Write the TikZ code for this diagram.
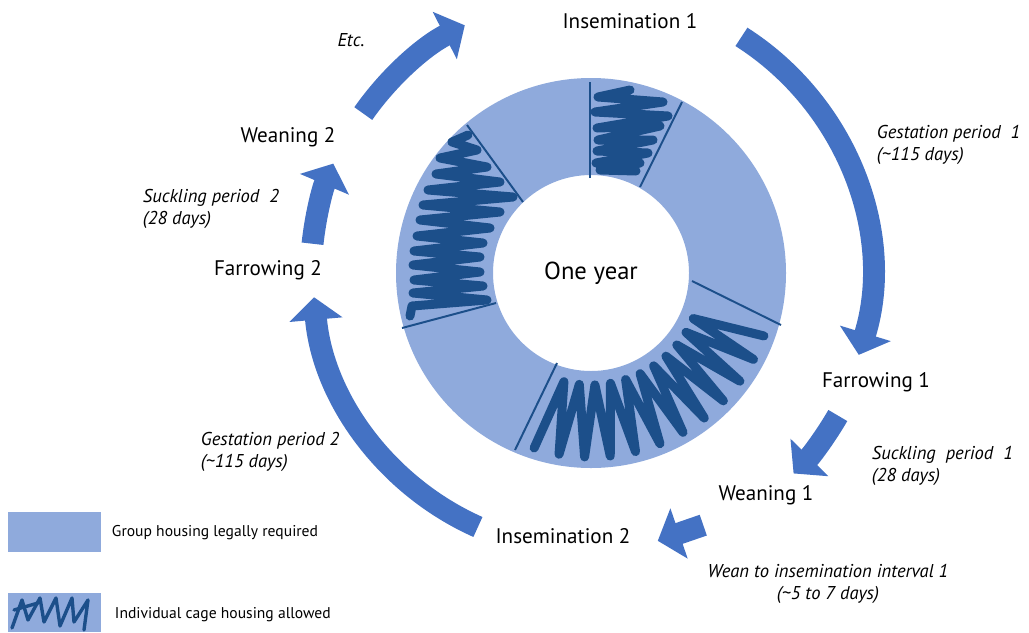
\documentclass[tikz,border=0pt]{standalone}
\usepackage{fontspec}
\setmainfont{PT Sans}
\usetikzlibrary{arrows.meta}

\definecolor{cycleblue}{HTML}{4472C4}
\definecolor{groupblue}{HTML}{8FAADC}
\definecolor{cageblue}{HTML}{1C4F8A}

\tikzset{%
   % thick curved arrow between two stages of the cycle
   cyclearrow/.style={
      draw=cycleblue,
      line width=15.6pt,
      -{Triangle[length=16pt, width=37pt]}
   },
   stage/.style={
      font=\fontsize{15}{18}\selectfont
   },
   period/.style={
      font=\itshape\fontsize{13.2}{16}\selectfont,
      align=left,
      anchor=west
   },
   % hand drawn filling of the cage periods
   scribble/.style={
      draw=cageblue,
      line width=6.4pt,
      line cap=round,
      line join=round
   },
   divider/.style={
      draw=cageblue,
      line width=1.4pt
   },
   legendtext/.style={
      font=\fontsize{11.1}{13}\selectfont,
      anchor=west
   },
}

\begin{document}
\begin{tikzpicture}[x=.025cm, y=-.025cm]
   \useasboundingbox (0,0) rectangle (1029,632);
   \coordinate (C) at (591,273);

   % the year as a ring
   \fill[groupblue, even odd rule] (C) circle (195) (C) circle (98);
   \draw[scribble] (630,90) -- (598,97) -- (663,102) -- (595,112) -- (668,116)
      -- (597,128) -- (660,126) -- (598,140) -- (653,140) -- (597,151)
      -- (648,153) -- (596,163) -- (640,163) -- (600,170) -- (636,171);
   \draw[scribble] (468,135) -- (452,142) -- (477,150) -- (440,158) -- (487,167)
      -- (436,174) -- (500,182) -- (428,190) -- (513,197) -- (423,205)
      -- (500,212) -- (420,220) -- (490,228) -- (417,236) -- (483,243)
      -- (414,251) -- (480,257) -- (413,265) -- (480,272) -- (414,280)
      -- (483,286) -- (413,293) -- (487,300) -- (412,306) -- (410,316);
   \draw[scribble, shift={(C)}] (108:184)
      \foreach \k in {1,...,11} { -- ({112-8*\k}:112) -- ({108-8*\k}:184) };
   \draw[divider] (590,178) -- (590,82);
   \draw[divider] (640,187) -- (682,102);
   \draw[divider] (692,281) -- (781,325);
   \draw[divider] (557,363) -- (515,450);
   \draw[divider] (496,303) -- (402,328);
   \draw[divider] (523,202) -- (467,125);
   \node[stage, font=\fontsize{17.5}{20}\selectfont] (year) at (C) {One year};

   % stages around the ring
   \node[stage] (insem1) at (630,21) {Insemination 1};
   \node[stage] (farrow1) at (876,382) {Farrowing 1};
   \node[stage] (wean1) at (766,495) {Weaning 1};
   \node[stage] (insem2) at (563,536) {Insemination 2};
   \node[stage] (farrow2) at (268,270) {Farrowing 2};
   \node[stage] (wean2) at (288,137) {Weaning 2};

   \node[period] (gest1) at (872,145) {Gestation period\ \ 1\\(\textasciitilde115 days)};
   \node[period] (suck1) at (867,466) {Suckling\ \ period\ \ 1\\(28 days)};
   \node[period, anchor=center, align=center] (interval1) at (828,584)
      {Wean to insemination interval 1\\(\textasciitilde5 to 7 days)};
   \node[period] (gest2) at (196,452) {Gestation period 2\\(\textasciitilde115 days)};
   \node[period] (suck2) at (138,209) {Suckling period\ \ 2\\(28 days)};
   \node[period, anchor=center] (etc) at (351,40) {Etc.};

   % arrows of the cycle
   \begin{scope}[shift={(C)}]
      \draw[cyclearrow] (-57.5:280) arc[start angle=-57.5, end angle=17, radius=280];
      \draw[cyclearrow] (30:285) arc[start angle=30, end angle=44.7, radius=285];
      \draw[cyclearrow] (66:276) -- (76:276);
      \draw[cyclearrow] (114:278) arc[start angle=114, end angle=175, radius=278];
      \draw[cyclearrow] (186:280) arc[start angle=186, end angle=203, radius=280];
      \draw[cyclearrow] (-145:278) arc[start angle=-145, end angle=-117, radius=278];
   \end{scope}

   % legend
   \fill[groupblue] (8,512) rectangle (101,552);
   \node[legendtext] (grouplegend) at (107,533) {Group housing legally required};
   \fill[groupblue] (8,593) rectangle (101,632);
   \draw[scribble, line width=2.4pt] (12,628) -- (22,600) -- (28,620) -- (40,598)
      -- (44,622) -- (56,598) -- (60,626) -- (72,598) -- (74,622) -- (88,600)
      -- (84,630);
   \draw[scribble, line width=2.4pt] (14,610) -- (38,603);
   \node[legendtext] (cagelegend) at (110,615) {Individual cage housing allowed};
\end{tikzpicture}
\end{document}
